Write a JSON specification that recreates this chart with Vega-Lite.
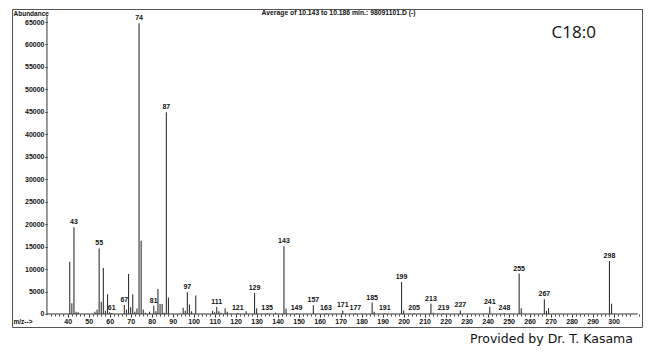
{
  "$schema": "https://vega.github.io/schema/vega-lite/v6.json",
  "width": 630,
  "height": 318,
  "autosize": "none",
  "padding": {"left": 12, "top": 9, "right": 8, "bottom": 30},
  "background": "white",
  "config": {"view": {"stroke": "#555", "strokeWidth": 1}, "font": "Liberation Sans"},
  "data": {"values": [
    {"mz": 41, "ab": 11650}, {"mz": 42, "ab": 2400}, {"mz": 43, "ab": 19300, "label": "43"},
    {"mz": 44, "ab": 500}, {"mz": 45, "ab": 400}, {"mz": 53, "ab": 500}, {"mz": 54, "ab": 1000},
    {"mz": 55, "ab": 14600, "label": "55"}, {"mz": 56, "ab": 2750}, {"mz": 57, "ab": 10250},
    {"mz": 58, "ab": 700}, {"mz": 59, "ab": 4400}, {"mz": 60, "ab": 400}, {"mz": 61, "ab": 200, "label": "61"},
    {"mz": 67, "ab": 2000, "label": "67"}, {"mz": 68, "ab": 1000}, {"mz": 69, "ab": 8900}, {"mz": 70, "ab": 1500},
    {"mz": 71, "ab": 4400}, {"mz": 72, "ab": 500}, {"mz": 73, "ab": 1200}, {"mz": 74, "ab": 64700, "label": "74"},
    {"mz": 75, "ab": 16300}, {"mz": 76, "ab": 1000}, {"mz": 77, "ab": 300}, {"mz": 79, "ab": 500},
    {"mz": 81, "ab": 1850, "label": "81"}, {"mz": 82, "ab": 600}, {"mz": 83, "ab": 5550}, {"mz": 84, "ab": 2200},
    {"mz": 85, "ab": 2200}, {"mz": 86, "ab": 300}, {"mz": 87, "ab": 44900, "label": "87"}, {"mz": 88, "ab": 3700},
    {"mz": 95, "ab": 1400}, {"mz": 96, "ab": 700}, {"mz": 97, "ab": 4850, "label": "97"}, {"mz": 98, "ab": 2100},
    {"mz": 99, "ab": 600}, {"mz": 101, "ab": 4100}, {"mz": 109, "ab": 700}, {"mz": 110, "ab": 400},
    {"mz": 111, "ab": 1550, "label": "111"}, {"mz": 112, "ab": 600}, {"mz": 113, "ab": 300}, {"mz": 115, "ab": 1300},
    {"mz": 116, "ab": 500}, {"mz": 121, "ab": 200, "label": "121"}, {"mz": 125, "ab": 600},
    {"mz": 129, "ab": 4650, "label": "129"}, {"mz": 130, "ab": 1300}, {"mz": 135, "ab": 200, "label": "135"},
    {"mz": 139, "ab": 300}, {"mz": 143, "ab": 15100, "label": "143"}, {"mz": 144, "ab": 1200},
    {"mz": 149, "ab": 150, "label": "149"}, {"mz": 157, "ab": 1950, "label": "157"}, {"mz": 163, "ab": 150, "label": "163"},
    {"mz": 171, "ab": 800, "label": "171"}, {"mz": 177, "ab": 150, "label": "177"}, {"mz": 185, "ab": 2550, "label": "185"},
    {"mz": 186, "ab": 500}, {"mz": 191, "ab": 150, "label": "191"}, {"mz": 199, "ab": 7100, "label": "199"},
    {"mz": 200, "ab": 800}, {"mz": 205, "ab": 150, "label": "205"}, {"mz": 213, "ab": 2300, "label": "213"},
    {"mz": 214, "ab": 300}, {"mz": 219, "ab": 150, "label": "219"}, {"mz": 227, "ab": 800, "label": "227"},
    {"mz": 241, "ab": 1600, "label": "241"}, {"mz": 248, "ab": 150, "label": "248"}, {"mz": 255, "ab": 9000, "label": "255"},
    {"mz": 256, "ab": 1300}, {"mz": 267, "ab": 3300, "label": "267"}, {"mz": 268, "ab": 700}, {"mz": 269, "ab": 1300},
    {"mz": 298, "ab": 11800, "label": "298"}, {"mz": 299, "ab": 2300}
  ]},
  "resolve": {"axis": {"x": "independent", "y": "independent"}},
  "layer": [
    {
      "mark": {"type": "rule", "color": "#333", "strokeWidth": 1.1},
      "encoding": {
        "x": {"field": "mz", "type": "quantitative",
          "scale": {"domain": [13.5, 313.5], "nice": false, "zero": false},
          "axis": {
            "orient": "bottom",
            "values": [40,50,60,70,80,90,100,110,120,130,140,150,160,170,180,190,200,210,220,230,240,250,260,270,280,290,300],
            "offset": -13, "domain": false, "grid": false,
            "tickColor": "#333", "tickWidth": 1, "tickSize": 3,
            "labelFont": "Liberation Sans", "labelFontWeight": "bold", "labelFontSize": 7, "labelColor": "#111",
            "labelPadding": 0, "labelOverlap": false, "labelFlush": false, "format": "d",
            "title": "m/z-->", "titleFont": "Liberation Sans", "titleFontSize": 6.5, "titleFontWeight": "bold",
            "titleColor": "#111", "titleAnchor": "start", "titleAlign": "left", "titleBaseline": "middle",
            "titleX": 1, "titleY": 7
          }
        },
        "y": {"field": "ab", "type": "quantitative",
          "scale": {"domain": [-2894, 67894], "nice": false, "zero": false},
          "axis": {
            "orient": "left",
            "values": [0,5000,10000,15000,20000,25000,30000,35000,40000,45000,50000,55000,60000,65000],
            "offset": -35, "domain": false, "grid": false,
            "tickColor": "#333", "tickSize": 2, "tickWidth": 1,
            "labelFont": "Liberation Sans", "labelFontWeight": "bold", "labelFontSize": 7, "labelColor": "#111",
            "labelPadding": 1, "labelOverlap": false, "labelFlush": false, "format": "d",
            "title": "Abundance", "titleFont": "Liberation Sans", "titleFontSize": 6.5, "titleFontWeight": "bold",
            "titleColor": "#111", "titleAngle": 0, "titleAlign": "left", "titleBaseline": "middle",
            "titleX": -34, "titleY": 4
          }
        },
        "y2": {"datum": 0}
      }
    },
    {
      "transform": [{"filter": "datum.label != null"}],
      "mark": {"type": "text", "font": "Liberation Sans", "fontWeight": "bold", "fontSize": 7, "color": "#111", "baseline": "bottom", "dy": -2},
      "encoding": {
        "x": {"field": "mz", "type": "quantitative", "axis": null},
        "y": {"field": "ab", "type": "quantitative", "axis": null},
        "text": {"field": "label"}
      }
    },
    {
      "data": {"values": [{}]},
      "mark": {"type": "rule", "color": "#333", "strokeWidth": 1},
      "encoding": {"x": {"datum": 30.14, "axis": null}, "y": {"datum": 0, "axis": null}, "y2": {"datum": 66300}}
    },
    {
      "data": {"values": [{}]},
      "mark": {"type": "rule", "color": "#333", "strokeWidth": 1},
      "encoding": {
        "x": {"datum": 30.14, "axis": {
          "orient": "bottom",
          "values": [32,34,36,38,42,44,46,48,52,54,56,58,62,64,66,68,72,74,76,78,82,84,86,88,92,94,96,98,102,104,106,108,112,114,116,118,122,124,126,128,132,134,136,138,142,144,146,148,152,154,156,158,162,164,166,168,172,174,176,178,182,184,186,188,192,194,196,198,202,204,206,208,212,214,216,218,222,224,226,228,232,234,236,238,242,244,246,248,252,254,256,258,262,264,266,268,272,274,276,278,282,284,286,288,292,294,296,298,302,304,306,308,312],
          "offset": -13, "domain": false, "grid": false, "labels": false, "title": null,
          "tickColor": "#444", "tickWidth": 1, "tickSize": 2
        }},
        "x2": {"datum": 311.5},
        "y": {"datum": 0, "axis": null}
      }
    },
    {
      "data": {"values": [{}]},
      "mark": {"type": "text", "font": "Liberation Sans", "fontWeight": "bold", "fontSize": 6.8, "color": "#111", "align": "center", "baseline": "middle"},
      "encoding": {"x": {"datum": 169, "axis": null}, "y": {"datum": 67000, "axis": null}, "text": {"value": "Average of 10.143 to 10.186 min.: 98091101.D (-)"}}
    },
    {
      "data": {"values": [{}]},
      "mark": {"type": "text", "font": "Open Sans", "fontSize": 17, "color": "#111", "align": "center", "baseline": "middle"},
      "encoding": {"x": {"datum": 281, "axis": null}, "y": {"datum": 62550, "axis": null}, "text": {"value": "C18:0"}}
    },
    {
      "data": {"values": [{}]},
      "mark": {"type": "text", "font": "DejaVu Sans", "fontSize": 12.5, "color": "#111", "align": "right", "baseline": "middle"},
      "encoding": {"x": {"datum": 309.2, "axis": null}, "y": {"datum": -5600, "axis": null}, "text": {"value": "Provided by Dr. T. Kasama"}}
    }
  ]
}
